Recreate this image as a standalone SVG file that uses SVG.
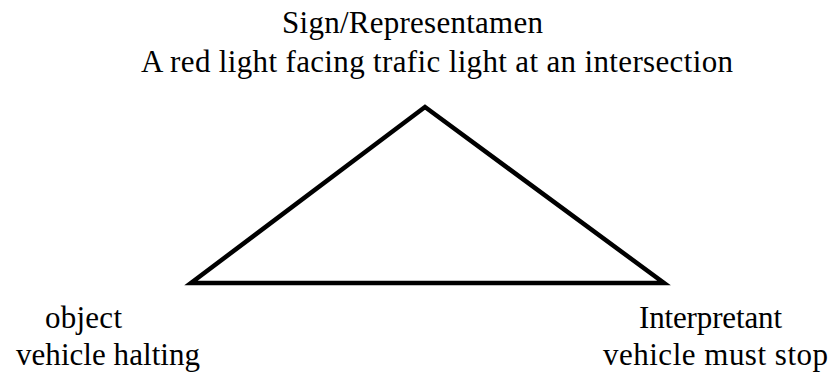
<svg xmlns="http://www.w3.org/2000/svg" width="829" height="372" viewBox="0 0 829 372">
<style>
text{font-family:"Liberation Serif","Times New Roman",serif;font-size:31px;fill:#000}
.edge{fill:none;stroke:#000;stroke-width:4.5;stroke-linejoin:miter}
</style>
<rect width="829" height="372" fill="#fff"/>
<g id="connectors">
<path class="edge" d="M425,107 L664,283 L191,283 Z"/>
</g>
<g id="sign">
<text x="282" y="33" textLength="261" lengthAdjust="spacing">Sign/Representamen</text>
<text x="141" y="72" textLength="592" lengthAdjust="spacing">A red light facing trafic light at an intersection</text>
</g>
<g id="object">
<text x="45" y="328" textLength="77" lengthAdjust="spacing">object</text>
<text x="16" y="365" textLength="184" lengthAdjust="spacing">vehicle halting</text>
</g>
<g id="interpretant">
<text x="639" y="328" textLength="143" lengthAdjust="spacing">Interpretant</text>
<text x="603" y="365" textLength="225" lengthAdjust="spacing">vehicle must stop</text>
</g>
</svg>
